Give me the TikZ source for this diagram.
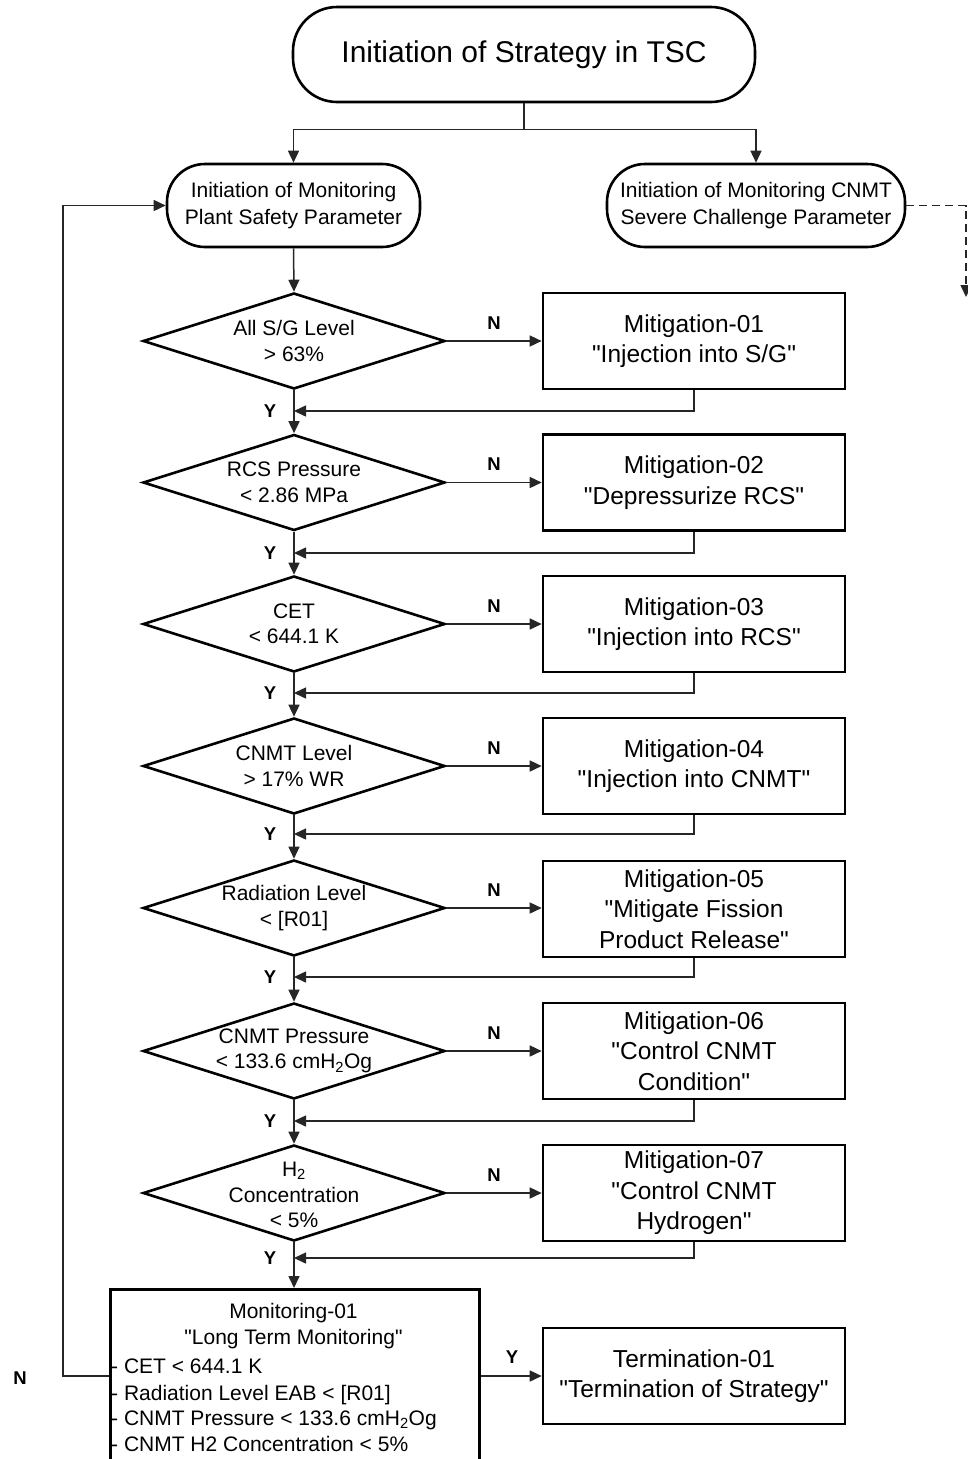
\documentclass[tikz,border=0pt]{standalone}
\usepackage{fontspec}
\setmainfont{Liberation Sans}[Ligatures=TeXOff]
\usetikzlibrary{arrows.meta,shapes.geometric,calc}
\begin{document}
\begin{tikzpicture}[x=1pt,y=-1pt,
  conn/.style={line width=1.5pt,draw=black!85},
  arr/.style={conn,-{Triangle[length=12pt,width=11pt]}},
  startbox/.style={draw,line width=2.6pt,rounded corners=44pt,minimum width=462pt,minimum height=95pt,font=\fontsize{30}{36}\selectfont,inner sep=0},
  termbox/.style={draw,line width=2.6pt,rounded corners=38pt,minimum height=83pt,align=center,font=\fontsize{21}{27}\selectfont,inner sep=0},
  mbox/.style={draw,line width=2.6pt,minimum width=302pt,minimum height=96pt,align=center,font=\fontsize{24.5}{30.5}\selectfont,inner sep=0},
  dec/.style={draw,diamond,line width=2.6pt,minimum width=302pt,minimum height=96pt,inner sep=0},
  dtext/.style={align=center,font=\fontsize{21}{25.5}\selectfont,inner sep=0},
  yn/.style={font=\bfseries\fontsize{18.5}{18.5}\selectfont,inner sep=0},
  mtext/.style={font=\fontsize{21}{26}\selectfont,inner sep=0}
]
\useasboundingbox (0,0) rectangle (968,1459);
\clip (0,0) rectangle (968,1459);

% top
\node[startbox] (top) at (524,54.5) {Initiation of Strategy in TSC};
\node[termbox,minimum width=253pt] (psp) at (293.5,205.5) {Initiation of Monitoring\\Plant Safety Parameter};
\node[termbox,minimum width=298pt] (csp) at (756,205.5) {Initiation of Monitoring CNMT\\Severe Challenge Parameter};

\draw[conn] (top.south) -- ++(0,26) coordinate (j);
\draw[arr] (j) -| (psp.north);
\draw[arr] (j) -| (csp.north);

\coordinate (dend) at (966,297);
\draw[conn,dash pattern=on 8pt off 5pt,-{Triangle[length=12pt,width=11pt]}] (csp.east) -| (dend);

% decisions
\node[dec] (d1) at (294,341) {};
\node[dec] (d2) at (294,482.5) {};
\node[dec] (d3) at (294,624) {};
\node[dec] (d4) at (294,766) {};
\node[dec] (d5) at (294,908) {};
\node[dec] (d6) at (294,1051) {};
\node[dec] (d7) at (294,1193) {};

\node[dtext] at (d1) {All S/G Level\\> 63\%};
\node[dtext] at (d2) {RCS Pressure\\< 2.86 MPa};
\node[dtext] at (d3) {CET\\< 644.1 K};
\node[dtext] at (d4) {CNMT Level\\> 17\% WR};
\node[dtext] at (d5) {Radiation Level\\< [R01]};
\node[dtext] at (d6) {CNMT Pressure\\< 133.6 cmH\textsubscript{2}Og};
\node[dtext] at ($(d7)+(0,2)$) {H\textsubscript{2}\\Concentration\\< 5\%};

% mitigation boxes
\node[mbox] (m1) at (694,341) {Mitigation-01\\"Injection into S/G"};
\node[mbox] (m2) at (694,482.5) {Mitigation-02\\"Depressurize RCS"};
\node[mbox] (m3) at (694,624) {Mitigation-03\\"Injection into RCS"};
\node[mbox] (m4) at (694,766) {Mitigation-04\\"Injection into CNMT"};
\node[mbox] (m5) at (694,909) {Mitigation-05\\"Mitigate Fission\\Product Release"};
\node[mbox] (m6) at (694,1051) {Mitigation-06\\"Control CNMT\\Condition"};
\node[mbox] (m7) at (694,1193) {Mitigation-07\\"Control CNMT\\Hydrogen"};

% monitoring and termination
\node[draw,line width=2.6pt,minimum width=369pt,minimum height=200pt,anchor=north west,inner sep=0] (mon) at (109,1288) {};
\node[mtext,align=center] at (293.5,1326.5) {Monitoring-01\\"Long Term Monitoring"};
\node[mtext,anchor=base west] at (111,1373) {- CET < 644.1 K};
\node[mtext,anchor=base west] at (111,1400) {- Radiation Level EAB < [R01]};
\node[mtext,anchor=base west] at (111,1425) {- CNMT Pressure < 133.6 cmH\textsubscript{2}Og};
\node[mtext,anchor=base west] at (111,1451) {- CNMT H2 Concentration < 5\%};

\node[mbox] (t1) at (694,1376) {Termination-01\\"Termination of Strategy"};

% main flow
\draw[arr] (psp.south) -- (d1.north);
\draw[arr] (d1.south) -- (d2.north);
\draw[arr] (d2.south) -- (d3.north);
\draw[arr] (d3.south) -- (d4.north);
\draw[arr] (d4.south) -- (d5.north);
\draw[arr] (d5.south) -- (d6.north);
\draw[arr] (d6.south) -- (d7.north);
\draw[arr] (d7.south) -- (d7.south |- mon.north);

% N branches and returns
\foreach \i/\r in {1/411,2/553,3/693,4/834,5/977,6/1121,7/1258}{
  \draw[arr] (d\i.east) -- (m\i.west |- d\i.east);
  \node[yn] at ($(d\i.east)!0.5!(m\i.west |- d\i.east)+(0,-18)$) {N};
  \draw[arr] (m\i.south) -- (m\i.south |- 0,\r) -- (d\i.south |- 0,\r);
  \node[yn] at (270,\r) {Y};
}

% monitoring exits
\draw[arr] (mon.east |- t1.west) -- (t1.west);
\node[yn] at (512,1357) {Y};
\draw[arr] (mon.west |- t1.west) -- (63,1376) |- (psp.west);
\node[yn] at (20,1378) {N};
\end{tikzpicture}
\end{document}
